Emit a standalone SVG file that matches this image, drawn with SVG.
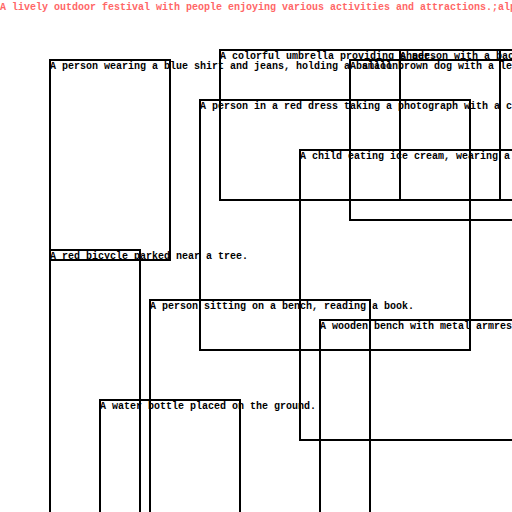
<svg xmlns="http://www.w3.org/2000/svg" width="512" height="512" viewBox="0 0 512 512">
<style>
.box{fill:none;stroke:#000;stroke-width:2}
.lbl{font-family:"Liberation Mono","DejaVu Sans Mono",monospace;font-size:10px;font-weight:bold;fill:#000}
.title{font-family:"Liberation Mono","DejaVu Sans Mono",monospace;font-size:10px;font-weight:bold;fill:#ff6666}
</style>
<rect width="512" height="512" fill="#fff"/>
<text class="title" x="0" y="10">A lively outdoor festival with people enjoying various activities and attractions.;alp</text>
<g id="node-person-balloon"><rect class="box" x="50" y="60" width="120" height="200"/><text class="lbl" x="50" y="69">A person wearing a blue shirt and jeans, holding a balloon.</text></g>
<g id="node-umbrella"><rect class="box" x="220" y="50" width="280" height="150"/><text class="lbl" x="220" y="59">A colorful umbrella providing shade.</text></g>
<g id="node-backpack"><rect class="box" x="400" y="50" width="150" height="150"/><text class="lbl" x="400" y="59">A person with a bac</text></g>
<g id="node-dog"><rect class="box" x="350" y="60" width="200" height="160"/><text class="lbl" x="350" y="69">A small brown dog with a le</text></g>
<g id="node-red-dress"><rect class="box" x="200" y="100" width="270" height="250"/><text class="lbl" x="200" y="109">A person in a red dress taking a photograph with a c</text></g>
<g id="node-child"><rect class="box" x="300" y="150" width="250" height="290"/><text class="lbl" x="300" y="159">A child eating ice cream, wearing a</text></g>
<g id="node-bicycle"><rect class="box" x="50" y="250" width="90" height="300"/><text class="lbl" x="50" y="259">A red bicycle parked near a tree.</text></g>
<g id="node-bench-reader"><rect class="box" x="150" y="300" width="220" height="250"/><text class="lbl" x="150" y="309">A person sitting on a bench, reading a book.</text></g>
<g id="node-wooden-bench"><rect class="box" x="320" y="320" width="250" height="250"/><text class="lbl" x="320" y="329">A wooden bench with metal armres</text></g>
<g id="node-water-bottle"><rect class="box" x="100" y="400" width="140" height="150"/><text class="lbl" x="100" y="409">A water bottle placed on the ground.</text></g>
<g id="connectors"/>
</svg>
